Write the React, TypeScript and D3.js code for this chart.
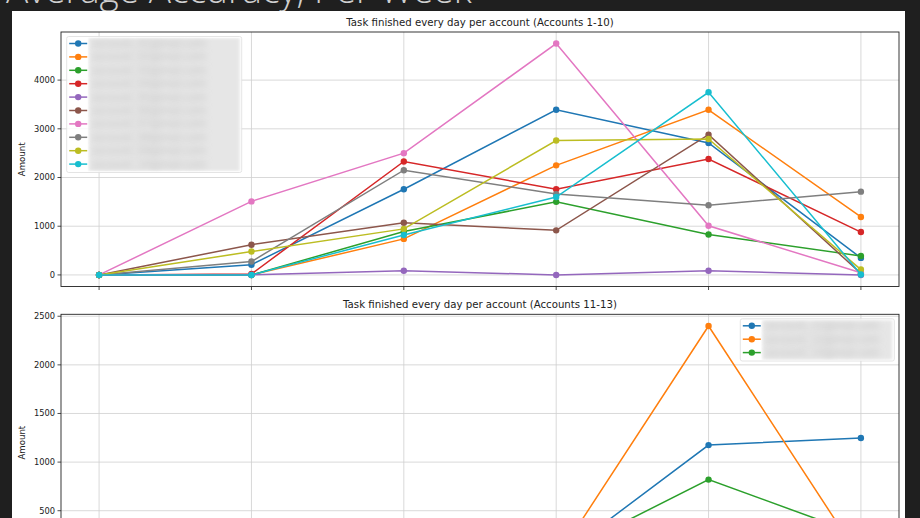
import React from "react";
import * as d3 from "d3";

const days = [0, 1, 2, 3, 4, 5];

const topSeriesNames = [
  "account_01", "account_02", "account_03", "account_04", "account_05",
  "account_06", "account_07", "account_08", "account_09", "account_10",
];
const topColors = [
  "#1f77b4", "#ff7f0e", "#2ca02c", "#d62728", "#9467bd",
  "#8c564b", "#e377c2", "#7f7f7f", "#bcbd22", "#17becf",
];
const acc01 = [0, 210, 1760, 3390, 2710, 350];
const acc02 = [0, 0, 740, 2250, 3390, 1190];
const acc03 = [0, 0, 890, 1500, 830, 390];
const acc04 = [0, 20, 2330, 1760, 2380, 880];
const acc05 = [0, 0, 85, 0, 85, 0];
const acc06 = [0, 620, 1070, 915, 2880, 30];
const acc07 = [0, 1510, 2500, 4750, 1010, 45];
const acc08 = [0, 275, 2150, 1660, 1430, 1710];
const acc09 = [0, 480, 945, 2760, 2790, 110];
const acc10 = [0, 0, 820, 1600, 3750, 10];
const topValues = [acc01, acc02, acc03, acc04, acc05, acc06, acc07, acc08, acc09, acc10];

const bottomSeriesNames = ["account_11", "account_12", "account_13"];
const bottomColors = ["#1f77b4", "#ff7f0e", "#2ca02c"];
const acc11 = [0, 0, 0, 0, 1175, 1248];
const acc12 = [0, 0, 0, 0, 2400, 0];
const acc13 = [0, 0, 0, 30, 820, 250];
const bottomValues = [acc11, acc12, acc13];

const topTicks = [0, 1000, 2000, 3000, 4000];
const bottomTicks = [0, 500, 1000, 1500, 2000, 2500];

const topTitle = "Task finished every day per account (Accounts 1-10)";
const bottomTitle = "Task finished every day per account (Accounts 11-13)";
const yLabel = "Amount";
const pageTitle = "Average Accuracy, Per Week";

const W = 920;
const H = 518;
const FONT = "DejaVu Sans, sans-serif";

type PanelProps = {
  top: number;
  bottom: number;
  values: number[][];
  colors: string[];
  names: string[];
  ticks: number[];
  title: string;
  legend: "upper left" | "upper right";
  id: string;
};

function Panel(p: PanelProps) {
  const left = 61;
  const right = 899;
  const x = d3.scaleLinear().domain([-0.25, 5.25]).range([left, right]);
  const maxV = d3.max(p.values.flat()) as number;
  const minV = d3.min(p.values.flat()) as number;
  const pad = (maxV - minV) * 0.05;
  const y = d3.scaleLinear().domain([minV - pad, maxV + pad]).range([p.bottom, p.top]);
  const line = d3
    .line<number>()
    .x((_, i) => x(days[i]))
    .y((d) => y(d));
  const visibleTicks = p.ticks.filter((t) => y(t) >= p.top - 1 && y(t) <= p.bottom);

  // legend geometry
  const n = p.names.length;
  const rowH = 13.4;
  const legW = p.legend === "upper left" ? 175 : 154;
  const legH = n * rowH + 2;
  const legX = p.legend === "upper left" ? left + 5.7 : right - 4.7 - legW;
  const legY = p.top + 4.5;

  return (
    <g>
      <text
        x={(left + right) / 2}
        y={p.top - 6}
        textAnchor="middle"
        fontFamily={FONT}
        fontSize={10.2}
        fill="#222"
      >
        {p.title}
      </text>
      <g>
        {days.map((d) => (
          <line
            key={"gx" + d}
            x1={x(d)}
            x2={x(d)}
            y1={p.top}
            y2={p.bottom}
            stroke="#cfcfcf"
            strokeWidth={0.8}
          />
        ))}
        {visibleTicks.map((t) => (
          <line
            key={"gy" + t}
            x1={left}
            x2={right}
            y1={y(t)}
            y2={y(t)}
            stroke="#cfcfcf"
            strokeWidth={0.8}
          />
        ))}
      </g>
      <clipPath id={"clip" + p.id}>
        <rect x={left} y={p.top} width={right - left} height={p.bottom - p.top} />
      </clipPath>
      <clipPath id={"legclip" + p.id}>
        <rect x={legX + 21} y={legY + 1} width={legW - 22} height={legH - 2} />
      </clipPath>
      <g clipPath={`url(#clip${p.id})`}>
        {p.values.map((vals, si) => (
          <g key={"s" + si}>
            <path d={line(vals) || ""} fill="none" stroke={p.colors[si]} strokeWidth={1.5} />
            {vals.map((v, i) => (
              <circle key={i} cx={x(days[i])} cy={y(v)} r={3.2} fill={p.colors[si]} />
            ))}
          </g>
        ))}
      </g>
      <rect
        x={left}
        y={p.top}
        width={right - left}
        height={p.bottom - p.top}
        fill="none"
        stroke="#222"
        strokeWidth={0.9}
      />
      {days.map((d) => (
        <line
          key={"tx" + d}
          x1={x(d)}
          x2={x(d)}
          y1={p.bottom}
          y2={p.bottom + 3.5}
          stroke="#222"
          strokeWidth={0.8}
        />
      ))}
      {visibleTicks.map((t) => (
        <g key={"ty" + t}>
          <line x1={left - 3.5} x2={left} y1={y(t)} y2={y(t)} stroke="#222" strokeWidth={0.8} />
          <text
            x={left - 6}
            y={y(t)}
            dy="0.35em"
            textAnchor="end"
            fontFamily={FONT}
            fontSize={8.3}
            fill="#222"
          >
            {t}
          </text>
        </g>
      ))}
      <text
        transform={`translate(25,${(p.top + p.bottom) / 2}) rotate(-90)`}
        textAnchor="middle"
        fontFamily={FONT}
        fontSize={8.6}
        fill="#222"
      >
        {yLabel}
      </text>
      {/* legend */}
      <g>
        <rect
          x={legX}
          y={legY}
          width={legW}
          height={legH}
          rx={2}
          fill="#ffffff"
          fillOpacity={0.85}
          stroke="#dddddd"
          strokeWidth={0.8}
        />
        <g clipPath={`url(#legclip${p.id})`}>
          <rect
            x={legX + 22}
            y={legY + 1.5}
            width={legW - 24}
            height={legH - 3}
            fill="#e6e6e6"
            filter={`url(#blurSoft${p.id})`}
          />
          {p.names.map((name, i) => {
            const cy = legY + 7 + i * rowH;
            return (
              <text
                key={"lt" + i}
                x={legX + 26}
                y={cy}
                dy="0.35em"
                fontFamily={FONT}
                fontSize={10}
                fill="#bdbdbd"
                filter={`url(#blurText${p.id})`}
              >
                {name + "@mail.com"}
              </text>
            );
          })}
        </g>
        {p.names.map((name, i) => {
          const cy = legY + 7 + i * rowH;
          return (
            <g key={"lg" + i}>
              <line
                x1={legX + 2.5}
                x2={legX + 20.5}
                y1={cy}
                y2={cy}
                stroke={p.colors[i]}
                strokeWidth={1.5}
              />
              <circle cx={legX + 11.5} cy={cy} r={3.2} fill={p.colors[i]} />
            </g>
          );
        })}
      </g>
      <defs>
        <filter id={"blurSoft" + p.id} x="-10%" y="-10%" width="120%" height="120%">
          <feGaussianBlur stdDeviation={1.5} />
        </filter>
        <filter id={"blurText" + p.id} x="-10%" y="-50%" width="120%" height="200%">
          <feGaussianBlur stdDeviation={3.5} />
        </filter>
      </defs>
    </g>
  );
}

export default function App() {
  return (
    <svg
      width={W}
      height={H}
      style={{ position: "absolute", left: 0, top: 0, display: "block" }}
    >
      <rect x={0} y={0} width={W} height={H} fill="#1f1f1f" />
      <text
        x={6}
        y={3}
        fontFamily="'Open Sans', sans-serif"
        fontWeight={300}
        fontSize={37}
        fill="#cfcfcf"
      >
        {pageTitle}
      </text>
      <rect x={12} y={11} width={893} height={H} fill="#ffffff" />
      <Panel
        id="a"
        top={32}
        bottom={286.5}
        values={topValues}
        colors={topColors}
        names={topSeriesNames}
        ticks={topTicks}
        title={topTitle}
        legend="upper left"
      />
      <Panel
        id="b"
        top={314.3}
        bottom={571}
        values={bottomValues}
        colors={bottomColors}
        names={bottomSeriesNames}
        ticks={bottomTicks}
        title={bottomTitle}
        legend="upper right"
      />
    </svg>
  );
}
